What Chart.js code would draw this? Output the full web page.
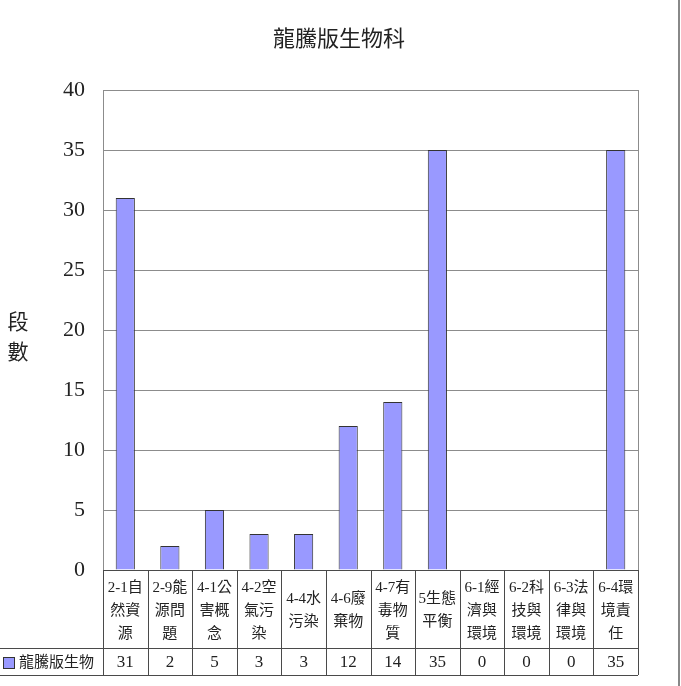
<!DOCTYPE html>
<html>
<head>
<meta charset="utf-8">
<script src="https://cdn.jsdelivr.net/npm/chart.js@4.4.1/dist/chart.umd.min.js"></script>
<style>
  html, body { margin: 0; padding: 0; background: #fff; }
  canvas { display: block; }
</style>
</head>
<body>
<canvas id="chart" width="681" height="686"></canvas>
<script>
// Chart data
const chartTitle = '龍騰版生物科';
const yAxisLabel = ['段', '數'];
const seriesName = '龍騰版生物';
const categories = [
    '2-1自然資源', '2-9能源問題', '4-1公害概念', '4-2空氣污染',
    '4-4水污染', '4-6廢棄物', '4-7有毒物質', '5生態平衡',
    '6-1經濟與環境', '6-2科技與環境', '6-3法律與環境', '6-4環境責任'
];
const values = [31, 2, 5, 3, 3, 12, 14, 35, 0, 0, 0, 35];
const yMin = 0;
const yMax = 40;
const yStep = 5;

const barColor = '#9999ff';
const gridColor = '#8c8c8c';
const tableColor = '#4a4a4a';
const serif = '"Liberation Serif", "Noto Sans CJK TC", serif';

// Split a label into lines that fit the cell width
function wrapText(ctx, text, maxWidth) {
    const lines = [];
    let line = '';
    for (const ch of text) {
        if (line && ctx.measureText(line + ch).width > maxWidth) {
            lines.push(line);
            line = ch;
        } else {
            line += ch;
        }
    }
    if (line) lines.push(line);
    return lines;
}

const tablePlugin = {
    id: 'dataTable',
    afterDraw(chart) {
        const ctx = chart.ctx;
        const area = chart.chartArea;
        const x = chart.scales.x;
        const n = categories.length;
        const step = (area.right - area.left) / n;
        const labelRowBottom = 648;
        const valueRowBottom = 675;

        ctx.save();

        // title
        ctx.fillStyle = '#222';
        ctx.font = '22px ' + serif;
        ctx.textAlign = 'center';
        ctx.textBaseline = 'middle';
        ctx.fillText(chartTitle, 339, 40);

        // stacked y axis label
        ctx.font = '21px ' + serif;
        yAxisLabel.forEach((ch, i) => ctx.fillText(ch, 18, 323 + i * 30));

        // right border of plot area
        ctx.strokeStyle = gridColor;
        ctx.lineWidth = 1;
        ctx.beginPath();
        ctx.moveTo(Math.round(area.right) + 0.5, area.top);
        ctx.lineTo(Math.round(area.right) + 0.5, area.bottom);
        ctx.stroke();

        // table grid
        ctx.strokeStyle = tableColor;
        ctx.beginPath();
        for (let i = 0; i <= n; i++) {
            const lx = Math.round(area.left + i * step) + 0.5;
            ctx.moveTo(lx, area.bottom);
            ctx.lineTo(lx, valueRowBottom);
        }
        ctx.moveTo(area.left, Math.round(area.bottom) + 0.5);
        ctx.lineTo(area.right, Math.round(area.bottom) + 0.5);
        ctx.moveTo(0, labelRowBottom + 0.5);
        ctx.lineTo(area.right, labelRowBottom + 0.5);
        ctx.moveTo(0, valueRowBottom + 0.5);
        ctx.lineTo(area.right, valueRowBottom + 0.5);
        ctx.stroke();

        // category labels and values
        ctx.fillStyle = '#222';
        categories.forEach((cat, i) => {
            const cx = x.getPixelForValue(i);
            ctx.font = '15px ' + serif;
            const lines = wrapText(ctx, cat, step - 5);
            const lh = 23;
            const cy = (area.bottom + labelRowBottom) / 2 + 2;
            const y0 = cy - (lines.length - 1) * lh / 2;
            lines.forEach((ln, j) => ctx.fillText(ln, cx, y0 + j * lh));

            ctx.font = '17px ' + serif;
            ctx.fillText(String(values[i]), cx, (labelRowBottom + valueRowBottom) / 2 + 1);
        });

        // legend key in the table
        const ky = 657;
        ctx.fillStyle = barColor;
        ctx.fillRect(3, ky, 11, 11);
        ctx.strokeStyle = '#333';
        ctx.strokeRect(3.5, ky + 0.5, 11, 11);
        ctx.fillStyle = '#222';
        ctx.font = '15px ' + serif;
        ctx.textAlign = 'left';
        ctx.fillText(seriesName, 19, 663);

        // outer right border
        ctx.strokeStyle = '#888';
        ctx.lineWidth = 2;
        ctx.beginPath();
        ctx.moveTo(679, 0);
        ctx.lineTo(679, 686);
        ctx.stroke();

        ctx.restore();
    }
};

new Chart(document.getElementById('chart'), {
    type: 'bar',
    data: {
        labels: categories,
        datasets: [{
            label: seriesName,
            data: values,
            backgroundColor: barColor,
            borderColor: '#333',
            borderWidth: 1,
            barPercentage: 0.43,
            categoryPercentage: 1
        }]
    },
    options: {
        responsive: false,
        animation: false,
        layout: { padding: { left: 0, top: 90, right: 43, bottom: 116 } },
        plugins: {
            legend: { display: false },
            title: { display: false },
            tooltip: { enabled: false }
        },
        scales: {
            x: { display: false, offset: true },
            y: {
                min: yMin,
                max: yMax,
                afterFit(scale) { scale.width = 103; },
                border: { display: true, color: gridColor },
                grid: { color: gridColor, drawTicks: false },
                ticks: {
                    stepSize: yStep,
                    padding: 18,
                    color: '#222',
                    font: { family: serif, size: 22 }
                }
            }
        }
    },
    plugins: [tablePlugin]
});
</script>
</body>
</html>
